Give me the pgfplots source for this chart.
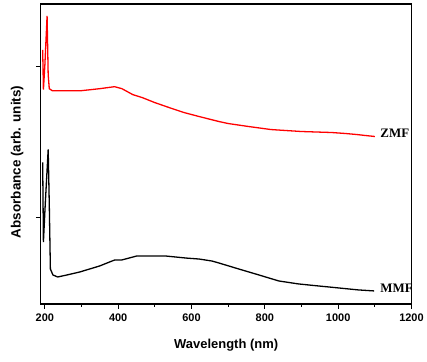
\documentclass[border=0pt]{standalone}
\usepackage{pgfplots}
\pgfplotsset{compat=1.18}
\usepackage{fontspec}
\setmainfont{Liberation Sans}
\newfontfamily\serifb{Liberation Serif}
\begin{document}
\begin{tikzpicture}
\begin{axis}[
  name=ax,
  scale only axis,
  width=372pt, height=301pt,
  xmin=189, xmax=1200,
  ymin=0, ymax=301,
  xtick={200,400,600,800,1000,1200},
  minor xtick={300,500,700,900,1100},
  ytick={87,238},
  yticklabels={},
  tick align=outside,
  xtick pos=bottom, ytick pos=left,
  major tick length=5pt, minor tick length=3pt,
  every tick/.style={black, line width=1.2pt},
  axis line style={line width=1.3pt},
  tick label style={font=\bfseries\fontsize{11}{13}\selectfont},
  /pgf/number format/assume math mode=true,
  /pgf/number format/1000 sep={},
  xticklabel style={yshift=-1pt},
  xlabel={\bfseries Wavelength (nm)},
  ylabel={\bfseries Absorbance (arb. units)},
  xlabel style={font=\bfseries\fontsize{13}{15}\selectfont, yshift=-11pt},
  ylabel style={font=\bfseries\fontsize{13.5}{15}\selectfont, yshift=2pt, xshift=-8pt},
  clip=false,
]
\addplot[red, line width=1.3pt] coordinates {
(194,255) (196,215) (200,240) (206,289) (209,230) (212,216) (220,214)
(250,214) (300,214) (350,216) (390,218) (410,216) (440,210) (466,207)
(500,202) (547,196) (580,192) (621,188) (675,183) (700,181) (756,178)
(816,175) (857,174) (900,173) (982,172) (1020,171) (1050,170) (1074,169) (1100,168)
};
\addplot[black, line width=1.3pt] coordinates {
(194,142) (196,62) (201,100) (209,155) (212,100) (215,35) (222,29) (235,27)
(260,29) (295,32) (349,38) (390,44) (409,44) (450,48) (531,48)
(585,46) (621,45) (656,43) (675,41) (729,35) (784,29) (838,23)
(892,20) (946,18) (1001,16) (1055,14) (1098,13)
};
\node[anchor=west, font=\serifb\bfseries\fontsize{13}{15}\selectfont, inner sep=1pt] at (axis cs:1112,171) {ZMF};
\node[anchor=west, font=\serifb\bfseries\fontsize{13}{15}\selectfont, inner sep=1pt] at (axis cs:1112,16) {MMF};
\end{axis}
\path ([xshift=-41pt,yshift=-58pt]ax.south west) rectangle ([xshift=14pt,yshift=4pt]ax.north east);
\end{tikzpicture}
\end{document}
